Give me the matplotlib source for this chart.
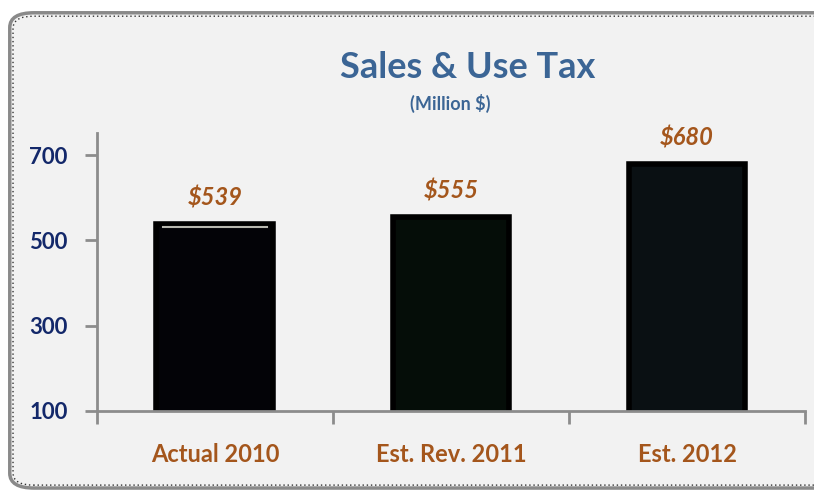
import matplotlib
matplotlib.use("Agg")
import matplotlib.pyplot as plt
from matplotlib.patches import FancyBboxPatch

plt.rcParams['font.family'] = ['Lato', 'DejaVu Sans']

# data
categories = ["Actual 2010", "Est. Rev. 2011", "Est. 2012"]
values = [539, 555, 680]
value_labels = ["$539", "$555", "$680"]
yticks = [100, 300, 500, 700]
bar_colors = ["#030307", "#050d08", "#0a1013"]

title_col = "#3b6595"
ytick_col = "#13286a"
brown = "#a4561c"
axis_col = "#8c8c8c"

fig = plt.figure(figsize=(8.14, 4.91), dpi=100)
fig.patch.set_facecolor("white")

# rounded chart area border
box = FancyBboxPatch((0.012, 0.006), 1.05, 0.968,
                     boxstyle="round,pad=0,rounding_size=0.03",
                     transform=fig.transFigure, facecolor="#f2f2f2",
                     edgecolor="#8a8a8a", linewidth=2.5, zorder=0)
fig.patches.append(box)
box2 = FancyBboxPatch((0.016, 0.012), 1.05, 0.955,
                      boxstyle="round,pad=0,rounding_size=0.025",
                      transform=fig.transFigure, facecolor="none",
                      edgecolor="#333333", linewidth=1.0, linestyle=(0, (1, 2)), zorder=1)
fig.patches.append(box2)

ax = fig.add_axes([0.119, 0.163, 0.870, 0.566])
ax.set_facecolor("none")
ax.set_zorder(5)

x = list(range(len(categories)))
bars = ax.bar(x, values, width=0.495, bottom=0, color=bar_colors,
              edgecolor="black", linewidth=4, zorder=2)
# top highlight line on first bar
ax.plot([x[0] - 0.22, x[0] + 0.22], [values[0] - 7, values[0] - 7],
        color="#b8b8b0", lw=1.5, zorder=3)

for xi, v, lab in zip(x, values, value_labels):
    ax.text(xi, v + 33, lab, ha="center", va="bottom", color=brown,
            fontsize=17, fontweight="bold", fontstyle="italic")

ax.set_xlim(-0.5, 2.5)
ax.set_ylim(100, 752)
ax.set_yticks(yticks)
ax.set_yticklabels([str(t) for t in yticks], color=ytick_col,
                   fontsize=16, fontweight="bold")
ax.set_xticks([-0.5, 0.5, 1.5, 2.5])
ax.set_xticklabels([])
ax.set_xticks(x, minor=True)
ax.set_xticklabels(categories, minor=True, color=brown, fontsize=17,
                   fontweight="bold")
ax.tick_params(axis="x", which="minor", length=0, pad=23)
ax.tick_params(axis="x", which="major", length=9, width=2, color=axis_col,
               direction="out")
ax.tick_params(axis="y", length=9, width=2, color=axis_col, pad=12)

for s in ["top", "right"]:
    ax.spines[s].set_visible(False)
for s in ["left", "bottom"]:
    ax.spines[s].set_color(axis_col)
    ax.spines[s].set_linewidth(2)

fig.text(0.574, 0.862, "Sales & Use Tax", ha="center", va="center",
         color=title_col, fontsize=26, fontweight="bold")
fig.text(0.553, 0.789, "(Million $)", ha="center", va="center",
         color=title_col, fontsize=13, fontweight="bold")

fig.savefig("out.png", dpi=100, facecolor=fig.get_facecolor())
